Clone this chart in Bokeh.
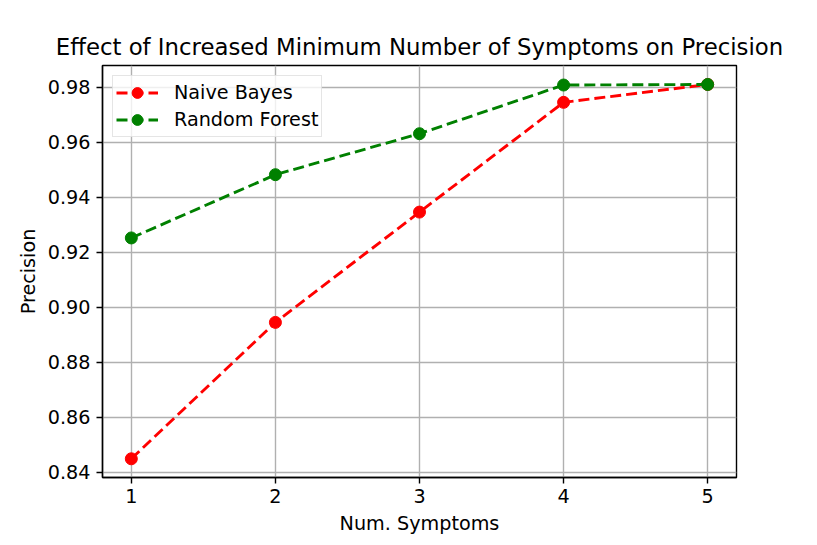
from bokeh.plotting import figure
from bokeh.models import Range1d, FixedTicker, NumeralTickFormatter
from bokeh.embed import file_html
from bokeh.resources import INLINE

symptoms = [1, 2, 3, 4, 5]
naive_bayes = [0.8449, 0.8945, 0.9346, 0.9745, 0.9810]
random_forest = [0.9252, 0.9482, 0.9631, 0.9808, 0.9810]
y_ticks = [0.84, 0.86, 0.88, 0.90, 0.92, 0.94, 0.96, 0.98]
x_ticks = [1, 2, 3, 4, 5]

FONT = "DejaVu Sans"
TICK_FS = "19.2px"
TITLE_FS = "22.8px"

p = figure(width=817, height=545, output_backend="svg", toolbar_location=None,
           x_range=Range1d(0.8, 5.2), y_range=Range1d(0.8381, 0.9879),
           min_border_left=102, min_border_right=81, min_border_top=65, min_border_bottom=68)

p.title.text = "Effect of Increased Minimum Number of Symptoms on Precision"
p.title.text_font = FONT
p.title.text_font_size = TITLE_FS
p.title.text_font_style = "normal"
p.title.align = "center"
p.title.text_color = "black"
p.title.standoff = 12

p.outline_line_color = "black"
p.outline_line_width = 1.4
p.outline_line_alpha = 1.0

for ax in (p.xaxis[0], p.yaxis[0]):
    ax.axis_line_color = "black"
    ax.axis_line_width = 1.4
    ax.major_tick_line_color = "black"
    ax.major_tick_line_width = 1.4
    ax.major_tick_out = 6
    ax.major_tick_in = 0
    ax.minor_tick_line_color = None
    ax.major_label_text_font = FONT
    ax.major_label_text_font_size = TICK_FS
    ax.major_label_text_color = "black"
    ax.axis_label_text_font = FONT
    ax.axis_label_text_font_size = TICK_FS
    ax.axis_label_text_font_style = "normal"
    ax.axis_label_text_color = "black"

p.xaxis.ticker = FixedTicker(ticks=x_ticks)
p.yaxis.ticker = FixedTicker(ticks=y_ticks)
p.yaxis.formatter = NumeralTickFormatter(format="0.00")
p.xaxis.axis_label = "Num. Symptoms"
p.yaxis.axis_label = "Precision"
p.xaxis.major_label_standoff = 5
p.yaxis.major_label_standoff = 6
p.xaxis.axis_label_standoff = 6
p.yaxis.axis_label_standoff = 5

p.grid.grid_line_color = "#b0b0b0"
p.grid.grid_line_width = 1.4

p.line(symptoms, naive_bayes, line_color="red", line_width=2.9, line_dash="11 5",
       legend_label="Naive Bayes")
p.scatter(symptoms, naive_bayes, size=12, fill_color="red", line_color="red",
          legend_label="Naive Bayes")
p.line(symptoms, random_forest, line_color="green", line_width=2.9, line_dash="11 5",
       legend_label="Random Forest")
p.scatter(symptoms, random_forest, size=12, fill_color="green", line_color="green",
          legend_label="Random Forest")

lg = p.legend[0]
lg.location = "top_left"
lg.margin = 10
lg.padding = 3
lg.spacing = 0
lg.glyph_width = 42
lg.glyph_height = 27
lg.label_height = 27
lg.label_standoff = 16
lg.label_text_font = FONT
lg.label_text_font_size = TICK_FS
lg.label_text_color = "black"
lg.border_line_color = "#cccccc"
lg.border_line_width = 1.4
lg.background_fill_color = "white"
lg.background_fill_alpha = 0.8

open("out.html", "w").write(file_html(p, INLINE))
